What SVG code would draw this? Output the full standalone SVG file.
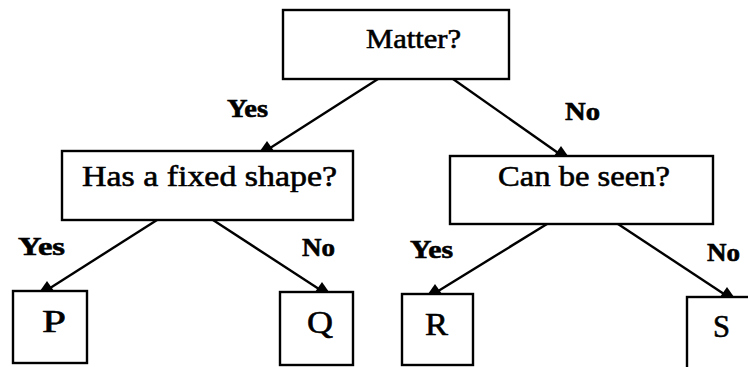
<svg xmlns="http://www.w3.org/2000/svg" width="748" height="367" viewBox="0 0 748 367">
<style>
.box{fill:#fff;stroke:#000;stroke-width:2.4}
.nt{font-family:"Liberation Serif","Times New Roman",serif;font-size:30px;fill:#000;stroke:#000;stroke-width:0.6}
.lb{font-family:"Liberation Serif","Times New Roman",serif;font-size:26px;font-weight:bold;fill:#000;stroke:#000;stroke-width:0.6}
.ln{stroke:#000;stroke-width:2.4;fill:none}
.ah{fill:#000}
</style>
<rect width="748" height="367" fill="#fff"/>
<g id="connectors">
<line class="ln" x1="378" y1="79" x2="267" y2="150"/>
<polygon class="ah" points="260,151 274,151 267,141"/>
<line class="ln" x1="453" y1="79" x2="561" y2="155"/>
<polygon class="ah" points="554,156 568,156 561,146"/>
<line class="ln" x1="157" y1="220" x2="47" y2="290"/>
<polygon class="ah" points="40,291 54,291 47,281"/>
<line class="ln" x1="213" y1="220" x2="322" y2="291"/>
<polygon class="ah" points="315,292 329,292 322,282"/>
<line class="ln" x1="547" y1="224" x2="435" y2="293"/>
<polygon class="ah" points="428,294 442,294 435,284"/>
<line class="ln" x1="618" y1="224" x2="727" y2="296"/>
<polygon class="ah" points="720,297 734,297 727,287"/>
<text class="lb" x="227" y="117" textLength="41" lengthAdjust="spacingAndGlyphs">Yes</text>
<text class="lb" x="565" y="120" textLength="35" lengthAdjust="spacingAndGlyphs">No</text>
<text class="lb" x="18" y="255" textLength="47" lengthAdjust="spacingAndGlyphs">Yes</text>
<text class="lb" x="302" y="256" textLength="33" lengthAdjust="spacingAndGlyphs">No</text>
<text class="lb" x="410" y="258" textLength="43" lengthAdjust="spacingAndGlyphs">Yes</text>
<text class="lb" x="707" y="261" textLength="33" lengthAdjust="spacingAndGlyphs">No</text>
</g>
<g id="matter">
<rect class="box" x="283" y="10" width="226" height="69"/>
<text class="nt" x="366" y="48" textLength="95" lengthAdjust="spacingAndGlyphs" style="font-size:28px">Matter?</text>
</g>
<g id="fixed-shape">
<rect class="box" x="62" y="151" width="291" height="69"/>
<text class="nt" x="82" y="186" textLength="255" lengthAdjust="spacingAndGlyphs">Has a fixed shape?</text>
</g>
<g id="seen">
<rect class="box" x="450" y="156" width="263" height="68"/>
<text class="nt" x="498" y="186" textLength="172" lengthAdjust="spacingAndGlyphs">Can be seen?</text>
</g>
<g id="P">
<rect class="box" x="13" y="291" width="74" height="72"/>
<text class="nt" x="42" y="332" textLength="24" lengthAdjust="spacingAndGlyphs" style="font-size:32px">P</text>
</g>
<g id="Q">
<rect class="box" x="280" y="292" width="73" height="73"/>
<text class="nt" x="307" y="333" textLength="26" lengthAdjust="spacingAndGlyphs" style="font-size:32px">Q</text>
</g>
<g id="R">
<rect class="box" x="402" y="294" width="71" height="71"/>
<text class="nt" x="425" y="335" textLength="23" lengthAdjust="spacingAndGlyphs" style="font-size:32px">R</text>
</g>
<g id="S">
<rect class="box" x="687" y="297" width="80" height="80"/>
<text class="nt" x="713" y="337" textLength="17" lengthAdjust="spacingAndGlyphs" style="font-size:32px">S</text>
</g>
</svg>
